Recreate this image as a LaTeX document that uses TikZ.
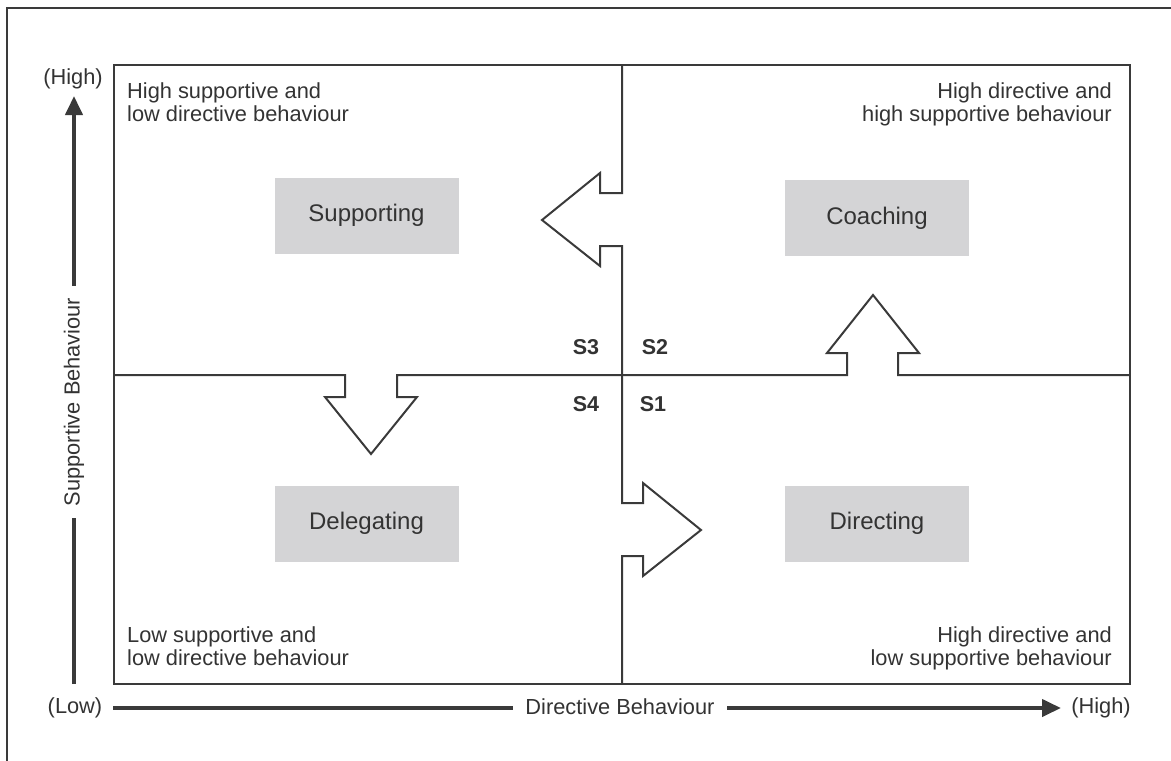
\documentclass[tikz,border=0pt]{standalone}
\usepackage{fontspec}
\setmainfont{Liberation Sans}
\usetikzlibrary{arrows.meta}
\definecolor{ink}{HTML}{3A3A3A}
\definecolor{txt}{HTML}{333333}
\definecolor{boxgray}{HTML}{D4D4D6}

\begin{document}
\begin{tikzpicture}[x=1pt,y=-1pt,
  frameline/.style={draw=ink,line width=1.8pt},
  divider/.style={draw=ink,line width=2pt,line join=miter},
  axisline/.style={draw=ink,line width=4pt,-{Triangle[length=19pt,width=17pt]}},
  stylebox/.style={fill=boxgray,minimum width=184pt,minimum height=76pt,inner sep=0pt,
    text=txt,font=\fontsize{24}{28}\selectfont},
  note/.style={inner sep=0pt,text=txt,font=\fontsize{21.8}{23.5}\selectfont},
  quadlabel/.style={inner sep=0pt,text=txt,font=\fontsize{21.5}{24}\selectfont\bfseries},
  axislabel/.style={fill=white,inner xsep=12pt,inner ysep=4pt,text=txt,
    font=\fontsize{21.8}{26}\selectfont}]

\useasboundingbox (0,0) rectangle (1171,761);

% outer frame (top and left edges)
\draw[frameline] (7,761) -- (7,8) -- (1171,8);

% quadrant frame
\draw[frameline] (114,65) rectangle (1130,684);

% vertical divider with the S2->S3 and S4->S1 arrows
\draw[divider] (622,65) -- (622,193) -- (600,193) -- (600,173) -- (542,220)
  -- (600,266) -- (600,246) -- (622,246) -- (622,503) -- (643,503) -- (643,483)
  -- (701,530) -- (643,576) -- (643,556) -- (622,556) -- (622,684);

% horizontal divider with the S3->S4 and S1->S2 arrows
\draw[divider] (114,375) -- (345,375) -- (345,397) -- (325,397) -- (371,454)
  -- (417,397) -- (397,397) -- (397,375) -- (847,375) -- (847,353) -- (827,353)
  -- (873,295) -- (919,353) -- (898,353) -- (898,375) -- (1130,375);

% leadership style boxes
\node[stylebox] (supporting) at (366.5,215.5) {Supporting};
\node[stylebox] (coaching)   at (877,218)     {Coaching};
\node[stylebox] (delegating) at (366.5,523.5) {Delegating};
\node[stylebox] (directing)  at (877,523.5)   {Directing};

% quadrant codes
\node[quadlabel] (s3) at (586,347) {S3};
\node[quadlabel] (s2) at (655,347) {S2};
\node[quadlabel] (s4) at (586,404.5) {S4};
\node[quadlabel] (s1) at (653,404.5) {S1};

% corner descriptions
\node[note,anchor=north west,align=left]  (tl) at (127,82)
  {High supportive and\\low directive behaviour};
\node[note,anchor=north east,align=right] (tr) at (1112,82)
  {High directive and\\high supportive behaviour};
\node[note,anchor=north west,align=left]  (bl) at (127,626)
  {Low supportive and\\low directive behaviour};
\node[note,anchor=north east,align=right] (br) at (1112,626)
  {High directive and\\low supportive behaviour};

% axes
\coordinate (xstart) at (113,708);
\coordinate (xend)   at (1061,708);
\coordinate (ystart) at (74,684);
\coordinate (yend)   at (74,96);
\draw[axisline] (xstart) -- (xend);
\draw[axisline] (ystart) -- (yend);
\node[axislabel] (xlabel) at (620,707) {Directive Behaviour};
\node[axislabel,rotate=90] (ylabel) at (74,402) {Supportive Behaviour};

% axis end labels
\node[note] (yhigh) at (73,79)   {(High)};
\node[note] (low)   at (75,708)  {(Low)};
\node[note] (xhigh) at (1101,708) {(High)};

\end{tikzpicture}
\end{document}
